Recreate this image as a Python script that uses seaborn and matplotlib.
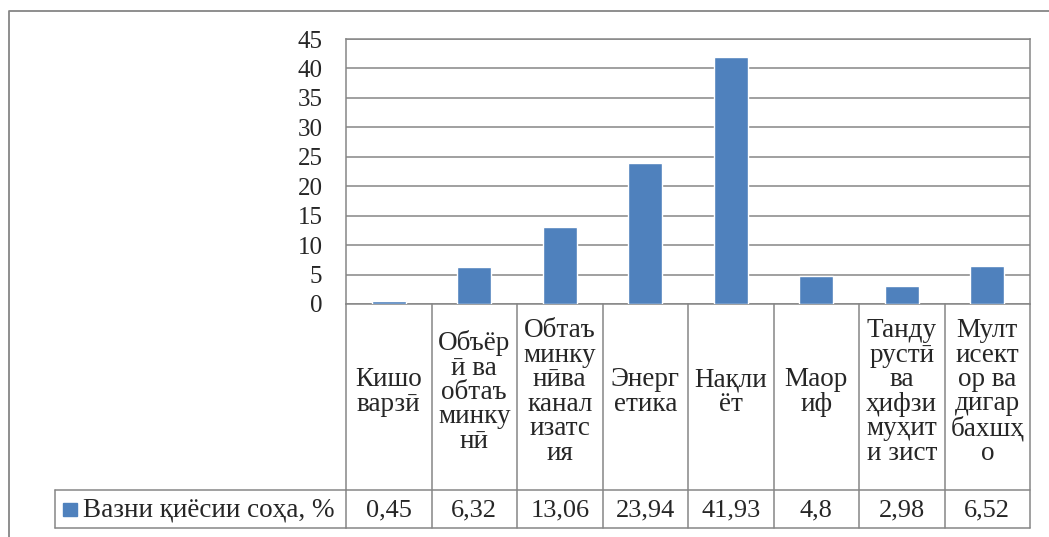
import matplotlib
matplotlib.use("Agg")
import matplotlib.pyplot as plt
import matplotlib.transforms as mtransforms
from matplotlib.patches import Rectangle
from matplotlib.lines import Line2D
import seaborn as sns
import pandas as pd

# ---- data ----
categories = ["Кишоварзӣ", "Объёрӣ ва обтаъминкунӣ", "Обтаъминкунӣва канализатсия",
              "Энергетика", "Нақлиёт", "Маориф", "Тандурустӣ ва ҳифзи муҳити зист",
              "Мултисектор ва дигар бахшҳо"]
category_labels = ["Кишо\nварзӣ", "Объёр\nӣ ва\nобтаъ\nминку\nнӣ",
                   "Обтаъ\nминку\nнӣва\nканал\nизатс\nия", "Энерг\nетика",
                   "Нақли\nёт", "Маор\nиф", "Танду\nрустӣ\nва\nҳифзи\nмуҳит\nи зист",
                   "Мулт\nисект\nор ва\nдигар\nбахшҳ\nо"]
values = [0.45, 6.32, 13.06, 23.94, 41.93, 4.8, 2.98, 6.52]
value_labels = ["0,45", "6,32", "13,06", "23,94", "41,93", "4,8", "2,98", "6,52"]
series_name = "Вазни қиёсии соҳа, %"
y_ticks = [0, 5, 10, 15, 20, 25, 30, 35, 40, 45]

BAR = "#4F81BD"
GRID = "#868686"

sns.set_style("white")
plt.rcParams["font.family"] = ["Liberation Serif", "DejaVu Serif"]

W, H = 1049, 537
fig = plt.figure(figsize=(W / 100, H / 100), dpi=100)
fx = lambda px: px / W
fy = lambda py: 1 - py / H

ax_left, ax_right, ax_top, ax_bot = 346, 1030, 39, 304
ax = fig.add_axes([fx(ax_left), fy(ax_bot), fx(ax_right) - fx(ax_left), fy(ax_top) - fy(ax_bot)])

df = pd.DataFrame({"cat": categories, "val": values})
sns.barplot(data=df, x="cat", y="val", color=BAR, saturation=1, width=0.4, ax=ax, zorder=3)

ax.set_xlim(-0.5, len(categories) - 0.5)
ax.set_ylim(0, 45)
ax.set_yticks(y_ticks)
ax.set_yticklabels([str(t) for t in y_ticks], fontsize=18)
ax.tick_params(axis="y", length=0, pad=17)
ax.set_xticks([])
ax.set_xlabel("")
ax.set_ylabel("")
ax.yaxis.grid(True, color=GRID, lw=1.1, zorder=0)
ax.set_axisbelow(True)
for s in ["left", "right", "top", "bottom"]:
    ax.spines[s].set_visible(True)
    ax.spines[s].set_color(GRID)
    ax.spines[s].set_linewidth(1.1)

# ---- data table ----
trans = mtransforms.blended_transform_factory(ax.transData, fig.transFigure)
row_split, table_bot, legend_left = 490, 528, 55
n = len(categories)
lw = 1.1
for i in range(n + 1):
    xb = i - 0.5
    fig.add_artist(Line2D([xb, xb], [fy(ax_bot), fy(table_bot)], transform=trans,
                          color=GRID, lw=lw))
for yy in (row_split, table_bot):
    fig.add_artist(Line2D([fx(legend_left), fx(ax_left)], [fy(yy), fy(yy)],
                          transform=fig.transFigure, color=GRID, lw=lw))
    fig.add_artist(Line2D([-0.5, n - 0.5], [fy(yy), fy(yy)], transform=trans,
                          color=GRID, lw=lw))
fig.add_artist(Line2D([fx(legend_left), fx(legend_left)], [fy(row_split), fy(table_bot)],
                      transform=fig.transFigure, color=GRID, lw=lw))

for i, (lab, vl) in enumerate(zip(category_labels, value_labels)):
    fig.text(i, fy(392), lab, transform=trans, ha="center", va="center",
             multialignment="center", fontsize=19.5, linespacing=0.97)
    fig.text(i, fy((row_split + table_bot) / 2 + 1), vl, transform=trans, ha="center",
             va="center", fontsize=19)

# legend key
fig.add_artist(Rectangle((fx(63), fy(516)), fx(77) - fx(63), fy(503) - fy(516),
                         transform=fig.transFigure, color=BAR))
fig.text(fx(83), fy(510), series_name, ha="left", va="center", fontsize=19.5)

# outer chart border
fig.add_artist(Line2D([fx(8.5), fx(8.5), fx(W)], [0, fy(10.5), fy(10.5)],
                      transform=fig.transFigure, color=GRID, lw=1.3))

fig.savefig("out.png", dpi=100)
